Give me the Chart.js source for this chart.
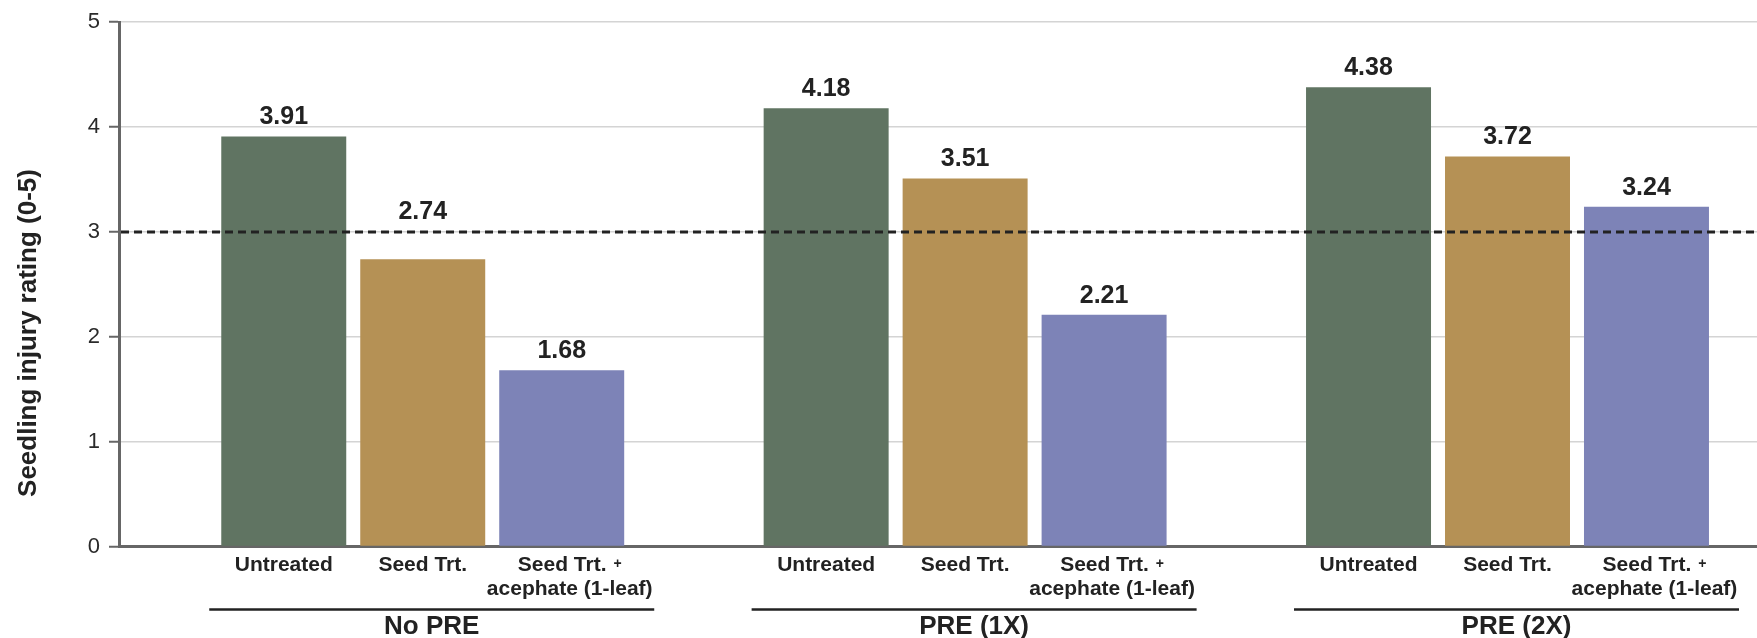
<!DOCTYPE html>
<html>
<head>
<meta charset="utf-8">
<title>Seedling injury rating</title>
<script src="https://cdn.jsdelivr.net/npm/chart.js@4"></script>
<style>
  html, body { margin: 0; padding: 0; background: #ffffff; }
  canvas { display: block; }
</style>
</head>
<body>
<canvas id="chart" width="1757" height="638"></canvas>
<script>
// Herbicide program groups along the x axis
const groups = ['No PRE', 'PRE (1X)', 'PRE (2X)'];

// Insecticide treatments (one bar each per group); multi-line labels
const treatmentLabels = [
  ['Untreated'],
  ['Seed Trt.'],
  ['Seed Trt. +', 'acephate (1-leaf)']
];

// Mean seedling injury rating (0-5) per group
const untreated = [3.91, 4.18, 4.38];
const seedTrt = [2.74, 3.51, 3.72];
const seedTrtAcephate = [1.68, 2.21, 3.24];

const yTicks = [0, 1, 2, 3, 4, 5];
const thresholdValue = 3;
const yTitle = 'Seedling injury rating (0-5)';

const seriesValues = [untreated, seedTrt, seedTrtAcephate];
const barColors = ['#607462', '#b59155', '#7d83b7'];
const FONT = "'Liberation Sans', Arial, Helvetica, sans-serif";
const INK = '#222222';

// Dashed reference line, value labels, category labels and group brackets
const annotate = {
  id: 'annotate',
  afterDatasetsDraw(chart) {
    const { ctx, chartArea, scales } = chart;
    const yRef = scales.y.getPixelForValue(thresholdValue);
    ctx.save();
    ctx.strokeStyle = INK;
    ctx.lineWidth = 3;
    ctx.setLineDash([8, 5]);
    ctx.beginPath();
    ctx.moveTo(chartArea.left + 2, yRef);
    ctx.lineTo(chartArea.right, yRef);
    ctx.stroke();
    ctx.restore();

    ctx.save();
    ctx.font = `bold 25px ${FONT}`;
    ctx.fillStyle = INK;
    ctx.textAlign = 'center';
    ctx.textBaseline = 'alphabetic';
    chart.data.datasets.forEach((ds, di) => {
      chart.getDatasetMeta(di).data.forEach((bar, i) => {
        let y = bar.y - 12;
        // keep the number clear of the dashed reference line
        if (y > yRef - 4 && y - 19 < yRef + 4) y = yRef - 13;
        ctx.fillText(ds.data[i].y.toFixed(2), bar.x, y);
      });
    });
    ctx.restore();
  },
  afterDraw(chart) {
    const { ctx, chartArea } = chart;
    const base = chartArea.bottom;
    ctx.save();
    ctx.fillStyle = INK;
    ctx.textBaseline = 'alphabetic';

    // treatment labels under each bar
    const labelFont = `bold 21px ${FONT}`;
    const plusFont = `bold 14px ${FONT}`;
    treatmentLabels.forEach((lines, k) => {
      const meta = chart.getDatasetMeta(k);
      const shift = lines.length > 1 ? 8 : 0;
      meta.data.forEach((bar) => {
        const cx = bar.x + shift;
        lines.forEach((line, li) => {
          const y = base + 24.5 + li * 24;
          if (line.endsWith(' +')) {
            const main = line.slice(0, -2);
            ctx.font = labelFont;
            const w1 = ctx.measureText(main).width;
            ctx.font = plusFont;
            const w2 = ctx.measureText('+').width;
            const gap = 7;
            const x0 = cx - (w1 + gap + w2) / 2;
            ctx.textAlign = 'left';
            ctx.font = labelFont;
            ctx.fillText(main, x0, y);
            ctx.font = plusFont;
            ctx.fillText('+', x0 + w1 + gap, y - 3);
          } else {
            ctx.font = labelFont;
            ctx.textAlign = 'center';
            ctx.fillText(line, cx, y);
          }
        });
      });
    });

    // group brackets and names
    const mid = chart.getDatasetMeta(1).data;
    groups.forEach((name, g) => {
      const cx = mid[g].x + 9;
      ctx.strokeStyle = INK;
      ctx.lineWidth = 2.5;
      ctx.beginPath();
      ctx.moveTo(cx - 222.5, base + 63);
      ctx.lineTo(cx + 222.5, base + 63);
      ctx.stroke();
      ctx.font = `bold 26px ${FONT}`;
      ctx.textAlign = 'center';
      ctx.fillText(name, cx, base + 87.5);
    });

    // y axis title
    ctx.translate(36, 333);
    ctx.rotate(-Math.PI / 2);
    ctx.font = `bold 26px ${FONT}`;
    ctx.textAlign = 'center';
    ctx.fillText(yTitle, 0, 0);
    ctx.restore();
  }
};

new Chart(document.getElementById('chart'), {
  type: 'bar',
  data: {
    datasets: treatmentLabels.map((lines, k) => ({
      label: lines.join(' '),
      data: seriesValues[k].map((v, i) => ({ x: i, y: v })),
      backgroundColor: barColors[k],
      borderWidth: 0,
      categoryPercentage: 0.7687,
      barPercentage: 0.8993
    }))
  },
  options: {
    responsive: false,
    devicePixelRatio: 1,
    animation: false,
    layout: { padding: { top: 21, right: 0, bottom: 0, left: 0 } },
    plugins: {
      legend: { display: false },
      tooltip: { enabled: false }
    },
    scales: {
      x: {
        type: 'linear',
        min: -0.56,
        max: 2.46,
        offset: false,
        z: 1,
        afterFit(scale) { scale.height = 91.5; },
        afterBuildTicks(scale) { scale.ticks = groups.map((_, i) => ({ value: i })); },
        ticks: { display: false },
        grid: { display: false, offset: false },
        border: { display: true, color: '#666666', width: 3 }
      },
      y: {
        min: 0,
        max: 5,
        afterFit(scale) { scale.width = 119; },
        afterBuildTicks(scale) { scale.ticks = yTicks.map((v) => ({ value: v })); },
        ticks: {
          font: { size: 22, family: FONT },
          color: '#2a2a2a',
          padding: 9
        },
        grid: {
          color: '#d4d4d4',
          lineWidth: 1.5,
          drawTicks: true,
          tickLength: 10,
          tickColor: '#666666',
          tickWidth: 2
        },
        border: { display: true, color: '#666666', width: 3 }
      }
    }
  },
  plugins: [annotate]
});
</script>
</body>
</html>
